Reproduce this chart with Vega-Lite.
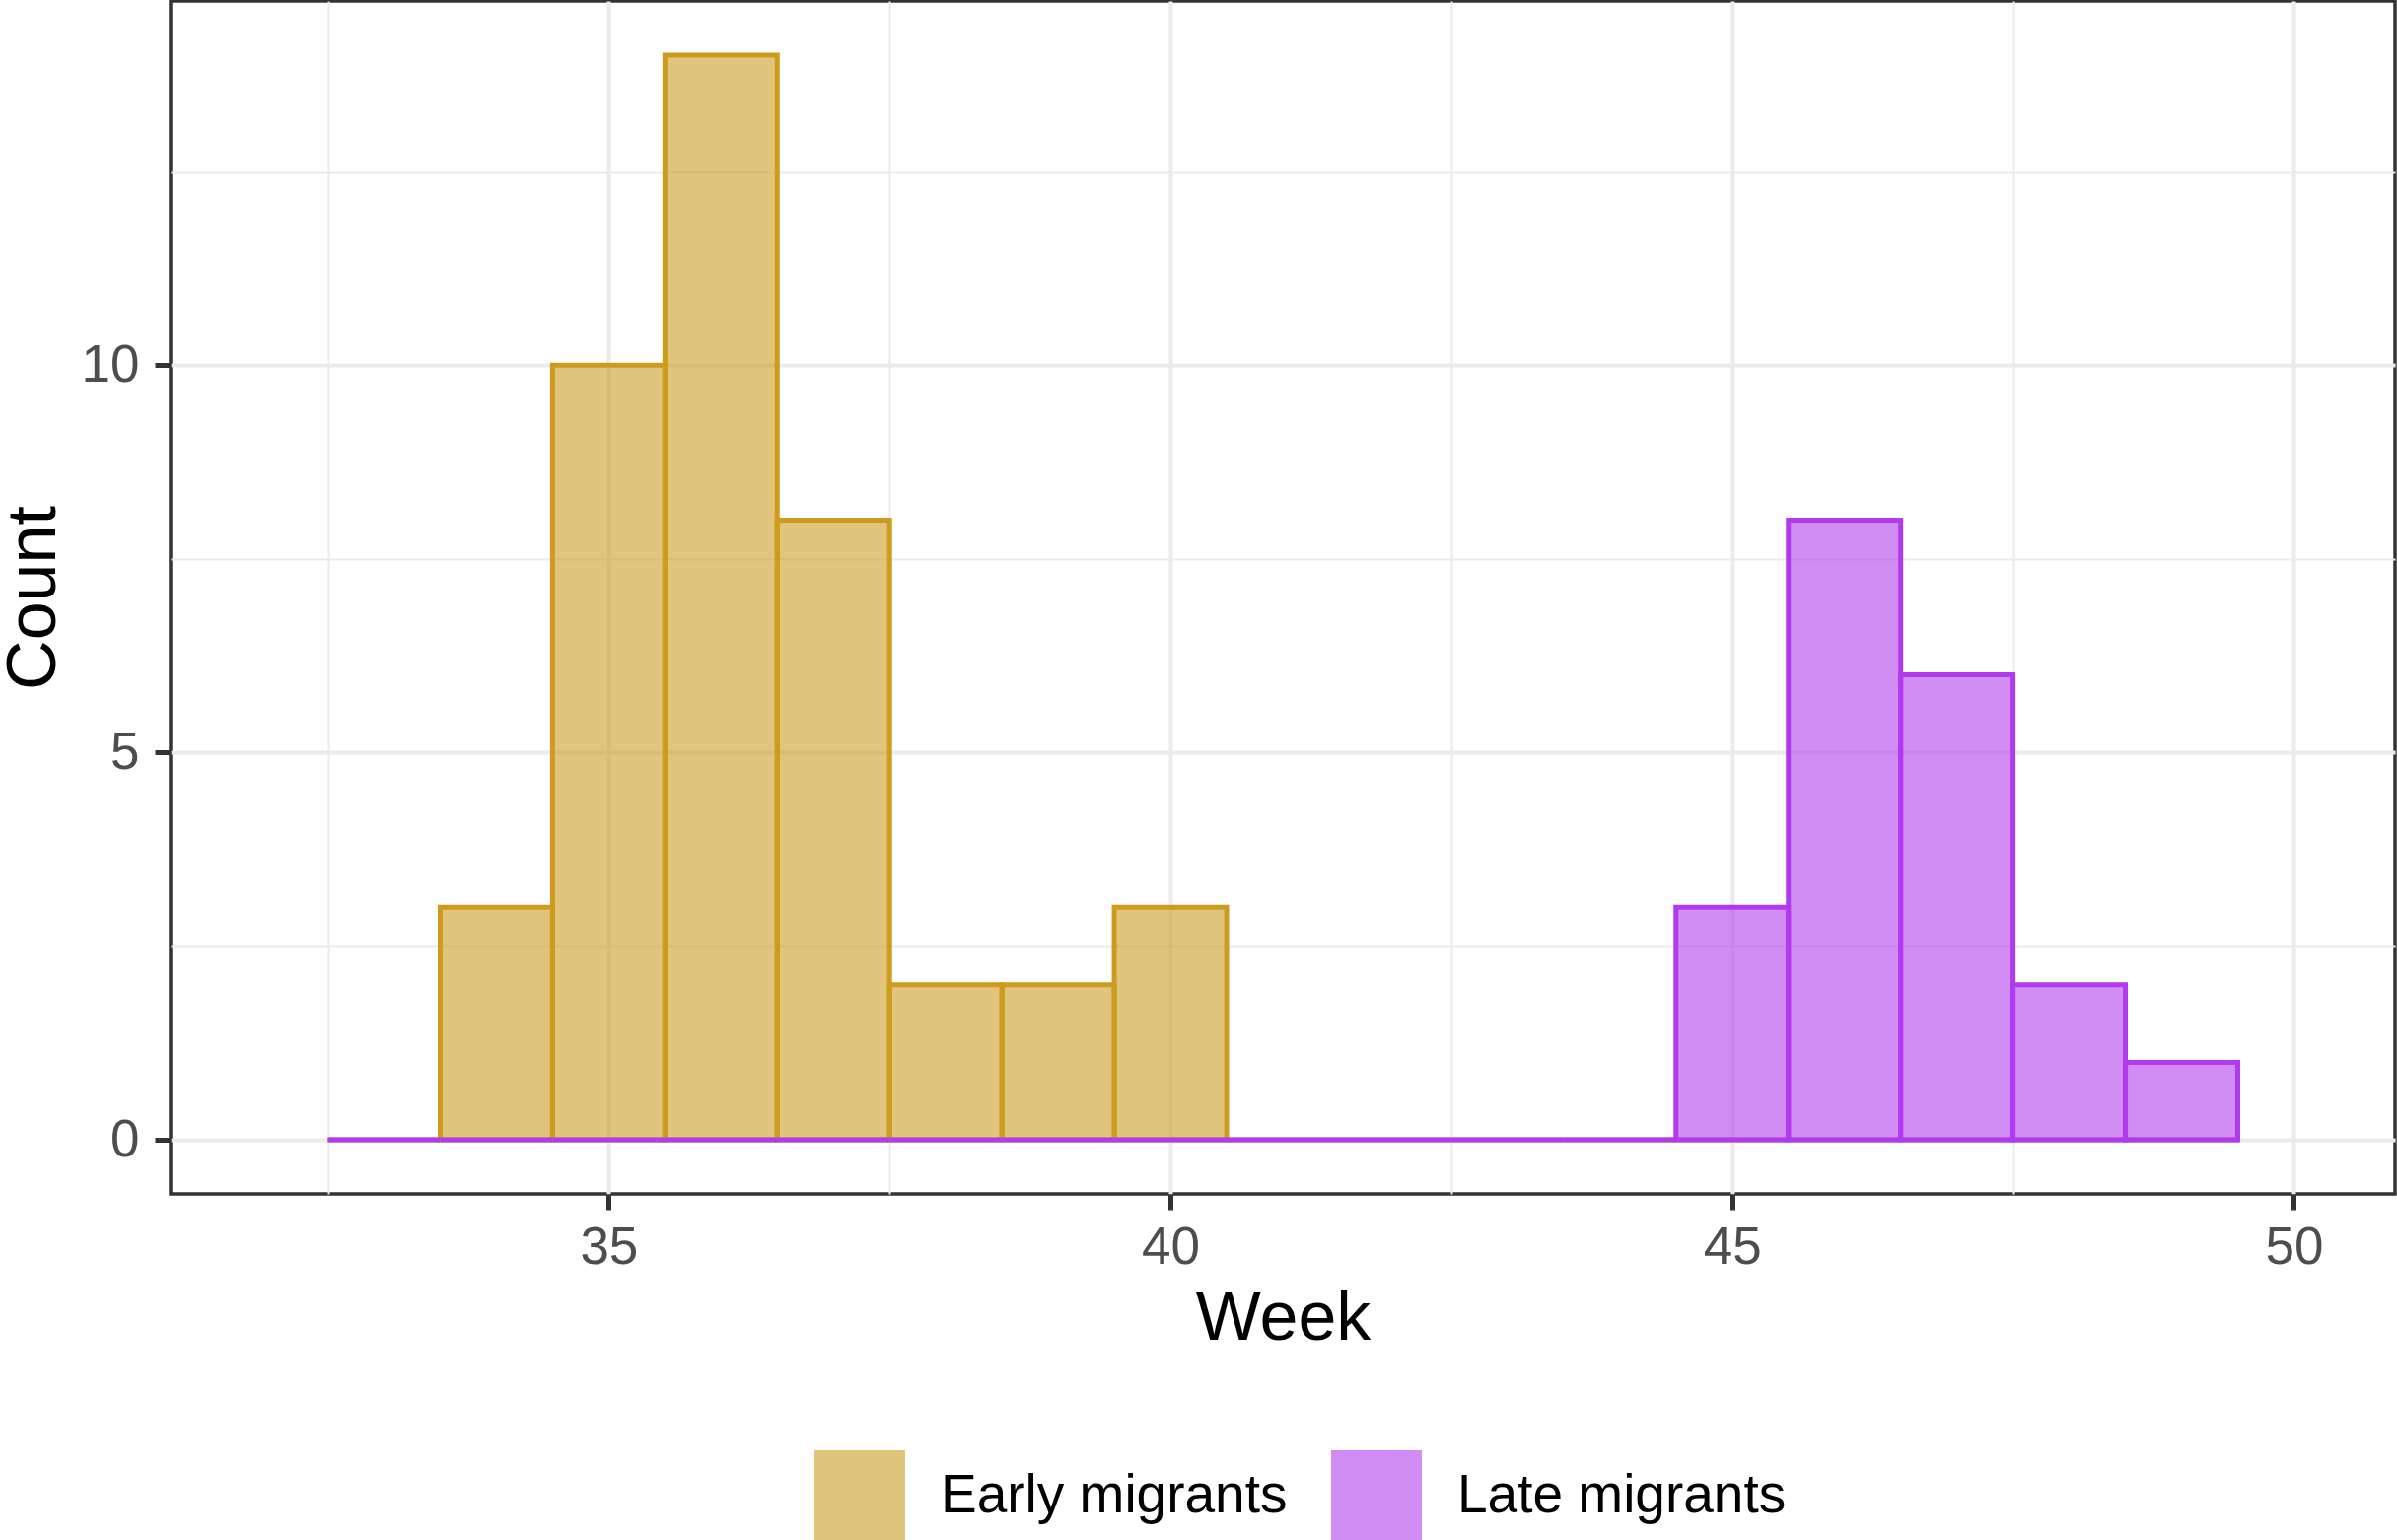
{
  "$schema": "https://vega.github.io/schema/vega-lite/v6.json",
  "width": 2256,
  "height": 1210,
  "autosize": {"type": "none"},
  "padding": {"left": 173, "top": 1, "right": 2, "bottom": 351},
  "background": "white",
  "config": {
    "font": "Liberation Sans",
    "view": {"stroke": "#333333", "strokeWidth": 3.5},
    "axis": {
      "domain": false,
      "labelFont": "Liberation Sans",
      "titleFont": "Liberation Sans",
      "labelFontSize": 53,
      "labelColor": "#4D4D4D",
      "titleFontSize": 70,
      "titleFontWeight": "normal",
      "titleColor": "#000000",
      "tickColor": "#333333",
      "tickSize": 16,
      "gridColor": "#EBEBEB"
    }
  },
  "data": {
    "values": [
      {"group": "Early migrants", "start": 32.5, "end": 33.5, "count": 0},
      {"group": "Early migrants", "start": 33.5, "end": 34.5, "count": 3},
      {"group": "Early migrants", "start": 34.5, "end": 35.5, "count": 10},
      {"group": "Early migrants", "start": 35.5, "end": 36.5, "count": 14},
      {"group": "Early migrants", "start": 36.5, "end": 37.5, "count": 8},
      {"group": "Early migrants", "start": 37.5, "end": 38.5, "count": 2},
      {"group": "Early migrants", "start": 38.5, "end": 39.5, "count": 2},
      {"group": "Early migrants", "start": 39.5, "end": 40.5, "count": 3},
      {"group": "Early migrants", "start": 40.5, "end": 41.5, "count": 0},
      {"group": "Early migrants", "start": 41.5, "end": 42.5, "count": 0},
      {"group": "Early migrants", "start": 42.5, "end": 43.5, "count": 0},
      {"group": "Early migrants", "start": 43.5, "end": 44.5, "count": 0},
      {"group": "Early migrants", "start": 44.5, "end": 45.5, "count": 0},
      {"group": "Early migrants", "start": 45.5, "end": 46.5, "count": 0},
      {"group": "Early migrants", "start": 46.5, "end": 47.5, "count": 0},
      {"group": "Early migrants", "start": 47.5, "end": 48.5, "count": 0},
      {"group": "Early migrants", "start": 48.5, "end": 49.5, "count": 0},
      {"group": "Late migrants", "start": 32.5, "end": 33.5, "count": 0},
      {"group": "Late migrants", "start": 33.5, "end": 34.5, "count": 0},
      {"group": "Late migrants", "start": 34.5, "end": 35.5, "count": 0},
      {"group": "Late migrants", "start": 35.5, "end": 36.5, "count": 0},
      {"group": "Late migrants", "start": 36.5, "end": 37.5, "count": 0},
      {"group": "Late migrants", "start": 37.5, "end": 38.5, "count": 0},
      {"group": "Late migrants", "start": 38.5, "end": 39.5, "count": 0},
      {"group": "Late migrants", "start": 39.5, "end": 40.5, "count": 0},
      {"group": "Late migrants", "start": 40.5, "end": 41.5, "count": 0},
      {"group": "Late migrants", "start": 41.5, "end": 42.5, "count": 0},
      {"group": "Late migrants", "start": 42.5, "end": 43.5, "count": 0},
      {"group": "Late migrants", "start": 43.5, "end": 44.5, "count": 0},
      {"group": "Late migrants", "start": 44.5, "end": 45.5, "count": 3},
      {"group": "Late migrants", "start": 45.5, "end": 46.5, "count": 8},
      {"group": "Late migrants", "start": 46.5, "end": 47.5, "count": 6},
      {"group": "Late migrants", "start": 47.5, "end": 48.5, "count": 2},
      {"group": "Late migrants", "start": 48.5, "end": 49.5, "count": 1}
    ]
  },
  "mark": {"type": "rect", "fillOpacity": 0.58, "strokeWidth": 5, "clip": true},
  "encoding": {
    "x": {
      "field": "start",
      "type": "quantitative",
      "scale": {"domain": [31.1, 50.9], "nice": false, "zero": false},
      "axis": {
        "title": "Week",
        "values": [32.5, 35, 37.5, 40, 42.5, 45, 47.5, 50],
        "labelExpr": "datum.value % 5 === 0 ? datum.label : ''",
        "tickOpacity": {"condition": {"test": "datum.value % 5 === 0", "value": 1}, "value": 0},
        "tickWidth": 5,
        "gridWidth": {"condition": {"test": "datum.value % 5 === 0", "value": 4}, "value": 2},
        "labelPadding": 12,
        "labelFlush": false,
        "titleY": 147,
        "titleBaseline": "alphabetic"
      }
    },
    "x2": {"field": "end"},
    "y": {
      "field": "count",
      "type": "quantitative",
      "scale": {"domain": [-0.7, 14.7], "nice": false, "zero": false},
      "axis": {
        "title": "Count",
        "values": [0, 2.5, 5, 7.5, 10, 12.5],
        "labelExpr": "datum.value % 5 === 0 ? datum.label : ''",
        "tickOpacity": {"condition": {"test": "datum.value % 5 === 0", "value": 1}, "value": 0},
        "tickWidth": 5,
        "gridWidth": {"condition": {"test": "datum.value % 5 === 0", "value": 4}, "value": 2},
        "labelPadding": 16,
        "labelFlush": false,
        "titleX": -118,
        "titleY": 605,
        "titleAngle": -90,
        "titleAlign": "center",
        "titleBaseline": "alphabetic"
      }
    },
    "y2": {"datum": 0},
    "fill": {
      "field": "group",
      "type": "nominal",
      "scale": {"domain": ["Early migrants", "Late migrants"], "range": ["#CD9B1D", "#B23AEE"]},
      "legend": {
        "title": null,
        "orient": "none",
        "direction": "horizontal",
        "legendX": 653,
        "legendY": 1470,
        "padding": 0,
        "symbolType": "square",
        "symbolSize": 8464,
        "symbolStrokeWidth": 0,
        "symbolOpacity": 0.58,
        "labelFont": "Liberation Sans",
        "labelFontSize": 55,
        "labelColor": "#000000",
        "labelOffset": 36,
        "columnPadding": 44,
        "labelLimit": 1000
      }
    },
    "stroke": {
      "field": "group",
      "type": "nominal",
      "scale": {"domain": ["Early migrants", "Late migrants"], "range": ["#CD9B1D", "#B23AEE"]},
      "legend": null
    }
  }
}
